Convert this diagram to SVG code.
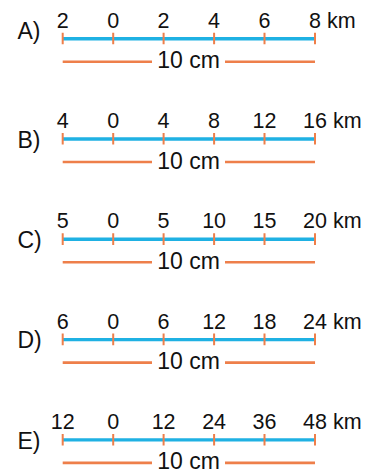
<svg xmlns="http://www.w3.org/2000/svg" width="367" height="469" viewBox="0 0 367 469">
<style>
text{font-family:"Liberation Sans",Arial,sans-serif;fill:#111}
.lab{font-size:23px}
.num{font-size:21.5px;text-anchor:middle}
.km{font-size:21.5px}
.cm{font-size:23px;text-anchor:middle}
.blue{stroke:#1fb1e3;stroke-width:3.4;fill:none}
.or{stroke:#ee7f4a;stroke-width:2.6;fill:none}
.tick{stroke:#ee7f4a;stroke-width:2;fill:none}
</style>
<defs>
<g id="scale">
<line class="blue" x1="62.7" y1="0" x2="315" y2="0"/>
<path class="tick" d="M62.7,-6V5.6M113.2,-6V5.6M163.6,-6V5.6M214.1,-6V5.6M264.5,-6V5.6M315,-6V5.6"/>
<path class="or" d="M62.7,23H152M225,23H315"/>
<text class="cm" x="188.5" y="29.5">10 cm</text>
</g>
</defs>
<g id="rowA">
<use href="#scale" y="38.7"/>
<text class="lab" x="17.5" y="39.3">A)</text>
<text class="num" x="62.7" y="27.8">2</text>
<text class="num" x="113.2" y="27.8">0</text>
<text class="num" x="163.6" y="27.8">2</text>
<text class="num" x="214.1" y="27.8">4</text>
<text class="num" x="264.5" y="27.8">6</text>
<text class="km" x="309" y="27.8">8 km</text>
</g>
<g id="rowB">
<use href="#scale" y="139"/>
<text class="lab" x="17.5" y="147.5">B)</text>
<text class="num" x="62.7" y="128.1">4</text>
<text class="num" x="113.2" y="128.1">0</text>
<text class="num" x="163.6" y="128.1">4</text>
<text class="num" x="214.1" y="128.1">8</text>
<text class="num" x="264.5" y="128.1">12</text>
<text class="km" x="303" y="128.1">16 km</text>
</g>
<g id="rowC">
<use href="#scale" y="239.3"/>
<text class="lab" x="17.5" y="248">C)</text>
<text class="num" x="62.7" y="228.4">5</text>
<text class="num" x="113.2" y="228.4">0</text>
<text class="num" x="163.6" y="228.4">5</text>
<text class="num" x="214.1" y="228.4">10</text>
<text class="num" x="264.5" y="228.4">15</text>
<text class="km" x="303" y="228.4">20 km</text>
</g>
<g id="rowD">
<use href="#scale" y="339.6"/>
<text class="lab" x="17.5" y="348.2">D)</text>
<text class="num" x="62.7" y="328.7">6</text>
<text class="num" x="113.2" y="328.7">0</text>
<text class="num" x="163.6" y="328.7">6</text>
<text class="num" x="214.1" y="328.7">12</text>
<text class="num" x="264.5" y="328.7">18</text>
<text class="km" x="303" y="328.7">24 km</text>
</g>
<g id="rowE">
<use href="#scale" y="439.9"/>
<text class="lab" x="17.5" y="448.5">E)</text>
<text class="num" x="62.7" y="429">12</text>
<text class="num" x="113.2" y="429">0</text>
<text class="num" x="163.6" y="429">12</text>
<text class="num" x="214.1" y="429">24</text>
<text class="num" x="264.5" y="429">36</text>
<text class="km" x="303" y="429">48 km</text>
</g>
</svg>
